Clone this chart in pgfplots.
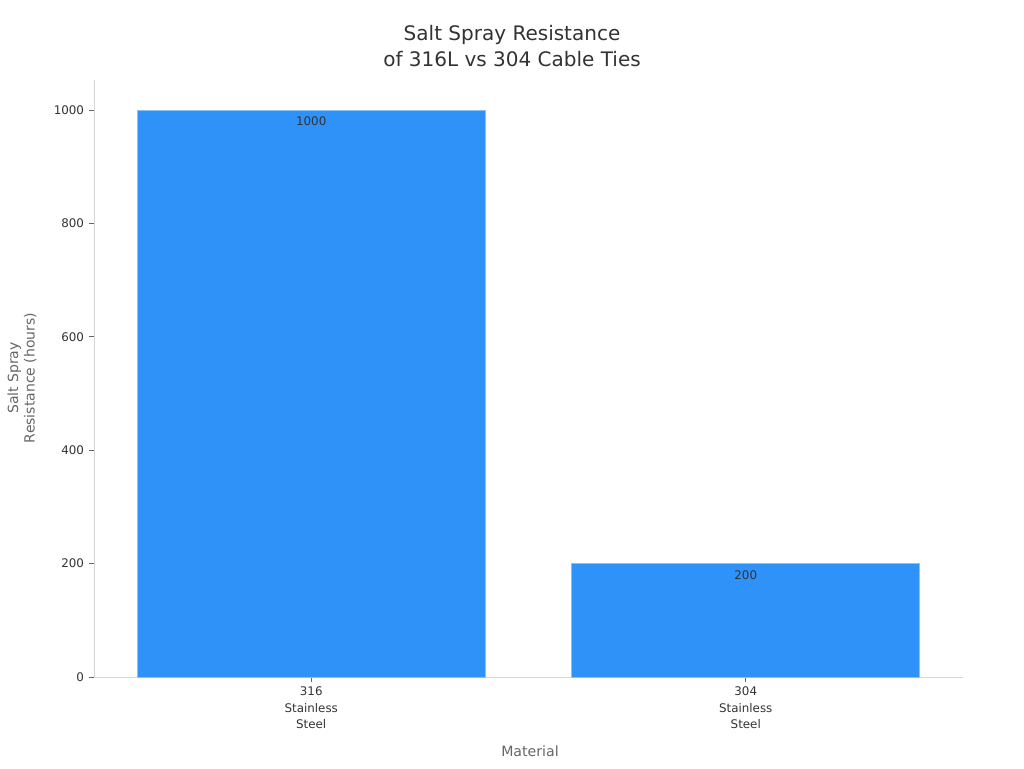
\documentclass[border=0pt]{standalone}
\usepackage{pgfplots}
\pgfplotsset{compat=1.18}
\usepackage{fontspec}
\setmainfont{DejaVu Sans}
\definecolor{barblue}{HTML}{2F92F9}
\definecolor{baredge}{HTML}{8CC0F7}
\definecolor{axgray}{HTML}{D6D6D6}
\definecolor{txt}{HTML}{333333}
\definecolor{lab}{HTML}{666666}

\pgfplotstableread{
x y
0 1000
1 200
}\salt

\begin{document}
\begin{tikzpicture}
\useasboundingbox (0,0) rectangle (768pt,576pt);
\begin{axis}[
  at={(70.5pt,68.25pt)}, anchor=south west,
  scale only axis,
  width=651.75pt, height=447.75pt,
  xmin=-0.5, xmax=1.5,
  ymin=0, ymax=1053,
  axis x line*=bottom, axis y line*=left,
  axis line style={axgray, line width=0.7pt, -},
  xtick=data,
  xticklabels={316\\Stainless\\Steel, 304\\Stainless\\Steel},
  x tick label style={align=center, font=\fontsize{8.9pt}{12.3pt}\selectfont, text=txt},
  ytick={0,200,400,600,800,1000},
  y tick label style={font=\fontsize{8.9pt}{10pt}\selectfont, text=txt},
  /pgf/number format/assume math mode=true,
  yticklabel={\pgfmathprintnumber[fixed,1000 sep={}]{\tick}},
  tick style={lab, line width=0.6pt},
  tick align=outside,
  major tick length=4pt,
  ybar, bar width=261pt,
  nodes near coords,
  every node near coord/.append style={anchor=north, yshift=-1.5pt, font=\fontsize{8.9pt}{10pt}\selectfont, text=txt},
  point meta=explicit symbolic,
  clip=false,
]
\addplot[fill=barblue, draw=baredge, line width=0.6pt] table[x=x, y=y, meta=y] {\salt};
\end{axis}
\node[align=center, font=\fontsize{15pt}{19.5pt}\selectfont, text=txt] at (384pt,541.5pt) {Salt Spray Resistance\\of 316L vs 304 Cable Ties};
\node[font=\fontsize{10.6pt}{12pt}\selectfont, text=lab] at (397.5pt,12.75pt) {Material};
\node[rotate=90, align=center, font=\fontsize{10.5pt}{12.5pt}\selectfont, text=lab] at (16.5pt,292.5pt) {Salt Spray\\Resistance (hours)};
\end{tikzpicture}
\end{document}
